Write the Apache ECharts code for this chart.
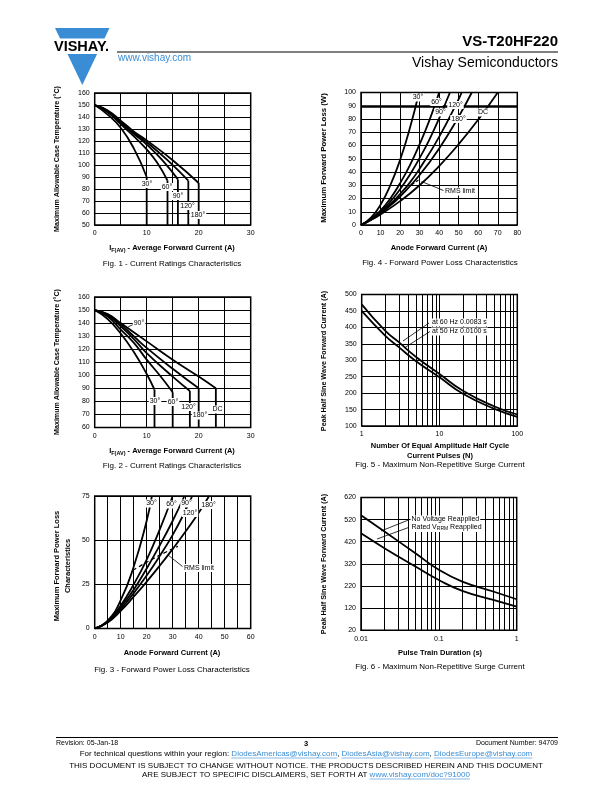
<!DOCTYPE html>
<html><head><meta charset="utf-8">
<script src="https://cdn.jsdelivr.net/npm/echarts@6/dist/echarts.min.js"></script>
<style>html,body{margin:0;padding:0;background:#fff}#c{width:612px;height:792px}</style>
</head><body><div id="c"></div>
<script>
// ---------- DATA ----------
// Fig. 1 - Current Ratings Characteristics (I, Tc)
const fig1_30 = [[0,150],[2.5,142],[5,131],[7.5,114],[10,90]];
const fig1_60 = [[0,150],[2.5,144],[5,134],[7.5,124],[10,113],[12,102],[14,87]];
const fig1_90 = [[0,150],[2.5,145],[5,135],[7.5,126],[10,117],[13,104],[16,88]];
const fig1_120 = [[0,150],[2.5,145],[5,136],[7.5,127],[10,119],[14,104],[18,87]];
const fig1_180 = [[0,150],[2.5,145.5],[5,137],[7.5,128],[10,120.5],[15,104],[20,85]];
// Fig. 2 - Current Ratings Characteristics
const fig2_30 = [[0,150],[2.5,143],[5,132],[7.5,118],[10,101],[11.5,89]];
const fig2_60 = [[0,150],[2.5,145],[5,135],[7.5,125],[10,112],[12.5,100],[15,87]];
const fig2_120 = [[0,150],[2.5,146],[5,137.5],[7.5,128],[10,117],[15,99],[18.3,88]];
const fig2_180 = [[0,150],[2.5,146.5],[5,139],[7.5,130],[10,121],[15,105],[20,90]];
const fig2_DC = [[0,150],[2.5,147],[5,140],[10,126],[15,112],[20,99],[23.3,90]];
// Fig. 3 - Forward Power Loss Characteristics (A, W)
const fig3_30 = [[0,0],[5,4.5],[10,16],[15,35],[20,61],[22,75]];
const fig3_60 = [[0,0],[5,4],[10,13],[15,25],[20,39],[25,56],[30,75]];
const fig3_90 = [[0,0],[5,3.8],[10,12],[15,22],[20,34],[25,47],[30,61],[34.5,75]];
const fig3_120 = [[0,0],[5,3.6],[10,11],[15,20],[20,30],[25,41],[30,53],[35,67],[37.5,75]];
const fig3_180 = [[0,0],[5,3.4],[10,10],[15,18],[20,26.5],[25,35.5],[30,45],[35,55],[40,65.5],[44,75]];
const fig3_rms = [[14.7,33],[20,37.5],[25,41.5],[32,46.5]];
// Fig. 4 - Forward Power Loss Characteristics
const fig4_30 = [[0,0],[5,5.3],[10,15.3],[15,30],[20,49],[25,73],[29.7,100]];
const fig4_60 = [[0,0],[5,4.4],[10,11],[15,20],[20,31.5],[25,45],[30,61],[35,79],[40,100]];
const fig4_90 = [[0,0],[5,4.2],[10,10],[15,17.6],[20,27],[25,38],[30,50.5],[35,64.5],[40,80.5],[45.5,100]];
const fig4_120 = [[0,0],[5,4],[10,9.3],[15,15.7],[20,23.4],[25,32],[30,42.5],[40,66.5],[50,95],[51.5,100]];
const fig4_180 = [[0,0],[5,3.9],[10,8.8],[15,14.6],[20,21.4],[30,37.7],[40,57.8],[50,81.8],[56.7,100]];
const fig4_DC = [[0,0],[5,3.7],[10,8],[20,18],[30,30],[40,44.5],[50,61],[60,79.5],[70,100]];
const fig4_limit = 90;
const fig4_rms = [[26,30.5],[30,34.5]];
// Fig. 5 - Maximum Non-Repetitive Surge Current (N, A)
const fig5_60Hz = [[1,470],[2,390],[3,355],[5,310],[10,258],[20,207],[50,160],[100,135]];
const fig5_50Hz = [[1,450],[2,375],[3,340],[5,297],[10,248],[20,198],[50,153],[100,128]];
const fig5MinorTicks = [2,3,4,5,6,7,8,9,20,30,40,50,60,70,80,90];
// Fig. 6 - Maximum Non-Repetitive Surge Current (s, A)
const fig6_noV = [[0.01,540],[0.02,466],[0.05,368],[0.1,293],[0.2,240],[0.5,195],[1,160]];
const fig6_rated = [[0.01,458],[0.02,391],[0.05,308],[0.1,247],[0.2,198],[0.5,157],[1,127]];
const fig6MinorTicks = [0.02,0.03,0.04,0.05,0.06,0.07,0.08,0.09,0.2,0.3,0.4,0.5,0.6,0.7,0.8,0.9];

// ---------- CHART ----------
const FF = '"Liberation Sans", Arial, Helvetica, sans-serif';
const BLUE = '#3a8dd4';
const chart = echarts.init(document.getElementById('c'), null, {renderer:'canvas'});

const gridsPos = [
  {left:94.7, top:93, width:156, height:132},
  {left:94.7, top:297, width:156, height:130.5},
  {left:94.7, top:496, width:156, height:132.5},
  {left:361, top:92.5, width:156.3, height:132.5},
  {left:361.7, top:294.5, width:155.6, height:131.5},
  {left:361, top:497.5, width:155.7, height:132.7}
];
const grid = gridsPos.map(g => Object.assign({show:true, borderColor:'#000', borderWidth:1.5, backgroundColor:'transparent', containLabel:false}, g));

function ax(gi, o) {
  return Object.assign({
    type:'value', gridIndex:gi,
    axisLine:{show:false}, axisTick:{show:false},
    splitLine:{show:true, lineStyle:{color:'#000', width:1}},
    axisLabel:{color:'#000', fontSize:7, fontFamily:FF, margin:5}
  }, o);
}
const every10 = v => (Math.abs(v % 10) < 1e-9 ? String(v) : '');
const logFmt = v => String(Number(v.toPrecision(3)));
const xAxis = [
  ax(0,{min:0,max:30,interval:5,axisLabel:{color:'#000',fontSize:7,fontFamily:FF,margin:5,formatter:every10}}),
  ax(1,{min:0,max:30,interval:5,axisLabel:{color:'#000',fontSize:7,fontFamily:FF,margin:5,formatter:every10}}),
  ax(2,{min:0,max:60,interval:5,axisLabel:{color:'#000',fontSize:7,fontFamily:FF,margin:5,formatter:every10}}),
  ax(3,{min:0,max:80,interval:10}),
  ax(4,{type:'log',logBase:10,min:1,max:100,axisLabel:{color:'#000',fontSize:7,fontFamily:FF,margin:5,formatter:logFmt}}),
  ax(5,{type:'log',logBase:10,min:0.01,max:1,axisLabel:{color:'#000',fontSize:7,fontFamily:FF,margin:5,formatter:logFmt}})
];
const yAxis = [
  ax(0,{min:50,max:160,interval:10}),
  ax(1,{min:60,max:160,interval:10}),
  ax(2,{min:0,max:75,interval:25}),
  ax(3,{min:0,max:100,interval:10}),
  ax(4,{min:100,max:500,interval:50}),
  ax(5,{min:20,max:620,interval:100})
];

function curve(data, gi, extra) {
  return Object.assign({
    type:'line', data, xAxisIndex:gi, yAxisIndex:gi, symbol:'none', showSymbol:false,
    smooth:0.5, clip:true, silent:true, animation:false, z:3, sampling:null,
    lineStyle:{color:'#000', width:1.8}
  }, extra || {});
}
function drops(ends, gi, ymin) {
  return ends.map(p => curve([[p[0],p[1]],[p[0],ymin]], gi, {smooth:false, lineStyle:{color:'#000', width:1.8}}));
}
function minorLines(ticks) {
  return {silent:true, symbol:['none','none'], label:{show:false}, animation:false,
    lineStyle:{color:'#000', width:1, type:'solid'}, emphasis:{disabled:true},
    data: ticks.map(v => ({xAxis:v}))};
}
const lastPt = a => a[a.length-1];

const series = [
  curve(fig1_30,0), curve(fig1_60,0), curve(fig1_90,0), curve(fig1_120,0), curve(fig1_180,0),
  ...drops([lastPt(fig1_30), lastPt(fig1_60), lastPt(fig1_90), lastPt(fig1_120), lastPt(fig1_180)], 0, 50),
  curve(fig2_30,1), curve(fig2_60,1), curve(fig2_120,1), curve(fig2_180,1), curve(fig2_DC,1),
  ...drops([lastPt(fig2_30), lastPt(fig2_60), lastPt(fig2_120), lastPt(fig2_180), lastPt(fig2_DC)], 1, 60),
  curve(fig3_30,2), curve(fig3_60,2), curve(fig3_90,2), curve(fig3_120,2), curve(fig3_180,2),
  curve(fig3_rms,2,{smooth:0.3, lineStyle:{color:'#000', width:1.3, type:[4,3]}}),
  curve(fig4_30,3), curve(fig4_60,3), curve(fig4_90,3), curve(fig4_120,3), curve(fig4_180,3),
  curve(fig4_DC,3,{markLine:{silent:true, symbol:['none','none'], label:{show:false}, animation:false,
    lineStyle:{color:'#000', width:2.6, type:'solid'}, data:[{yAxis:fig4_limit}]}}),
  curve(fig4_rms,3,{smooth:false, lineStyle:{color:'#000', width:1.2, type:[3,2]}}),
  curve(fig5_60Hz,4,{markLine:minorLines(fig5MinorTicks)}), curve(fig5_50Hz,4),
  curve(fig6_noV,5,{markLine:minorLines(fig6MinorTicks)}), curve(fig6_rated,5)
];

// ---------- TEXT / DECORATION ----------
const G = [];
function txt(x, y, text, size, o) {
  o = o || {};
  G.push({type:'text', x, y, rotation:o.rot||0, z:50, silent:true,
    style:Object.assign({text, fill:o.fill||'#000', align:o.align||'center', verticalAlign:'middle',
      font:(o.bold?'bold ':'') + size + 'px ' + FF}, o.style||{})});
}
function lbl(x, y, text, align) {
  G.push({type:'text', x, y, z:60, silent:true,
    style:{text, fill:'#000', align:align||'center', verticalAlign:'middle', font:'7px '+FF,
      backgroundColor:'#fff', padding:[1,1,0,1]}});
}
function seg(x1,y1,x2,y2,w,col){ G.push({type:'line', z:55, silent:true, shape:{x1,y1,x2,y2}, style:{stroke:col||'#000', lineWidth:w||0.8}}); }

// Header
G.push({type:'polygon', z:10, silent:true, shape:{points:[[55,28],[109.5,28],[82.3,85]]}, style:{fill:BLUE}});
G.push({type:'rect', z:11, silent:true, shape:{x:48,y:38.5,width:66,height:15.5}, style:{fill:'#fff'}});
txt(81.5, 46.8, 'VISHAY.', 14.5, {bold:true});
txt(118, 58.5, 'www.vishay.com', 10, {align:'left', fill:BLUE});
G.push({type:'line', z:10, silent:true, shape:{x1:117,y1:52,x2:558,y2:52}, style:{stroke:'#000', lineWidth:1}});
txt(558, 42, 'VS-T20HF220', 15, {bold:true, align:'right'});
txt(558, 63, 'Vishay Semiconductors', 14, {align:'right'});

// Axis titles & captions
const YT = 'Maximum Allowable Case Temperature (°C)';
const R = Math.PI/2;
txt(57, 159, YT, 7.1, {bold:true, rot:R});
txt(57, 362, YT, 7.1, {bold:true, rot:R});
txt(57, 566, 'Maximum Forward Power Loss', 7.5, {bold:true, rot:R});
txt(67.5, 566, 'Characteristics', 7.5, {bold:true, rot:R});
txt(324, 158, 'Maximum Forward Power Loss (W)', 7.8, {bold:true, rot:R});
txt(324, 361, 'Peak Half Sine Wave Forward Current (A)', 7.2, {bold:true, rot:R});
txt(324, 564, 'Peak Half Sine Wave Forward Current (A)', 7.2, {bold:true, rot:R});

function xTitleIF(x, y) {
  G.push({type:'text', x, y, z:50, silent:true, style:{
    text:'{b|I}{s|F(AV)}{b| - Average Forward Current (A)}', align:'center', verticalAlign:'middle', fill:'#000',
    rich:{b:{font:'bold 7.5px '+FF, fill:'#000', lineHeight:11}, s:{font:'bold 5.5px '+FF, fill:'#000', lineHeight:11, padding:[4,0,0,0]}}}});
}
xTitleIF(172, 248);
xTitleIF(172, 451);
txt(172, 653, 'Anode Forward Current (A)', 7.5, {bold:true});
txt(439, 248, 'Anode Forward Current (A)', 7.5, {bold:true});
txt(440, 446, 'Number Of Equal Amplitude Half Cycle', 7.5, {bold:true});
txt(440, 455.5, 'Current Pulses (N)', 7.5, {bold:true});
txt(440, 653, 'Pulse Train Duration (s)', 7.5, {bold:true});

txt(172, 264, 'Fig. 1 - Current Ratings Characteristics', 8);
txt(172, 466, 'Fig. 2 - Current Ratings Characteristics', 8);
txt(172, 670, 'Fig. 3 - Forward Power Loss Characteristics', 8);
txt(440, 263, 'Fig. 4 - Forward Power Loss Characteristics', 8);
txt(440, 465, 'Fig. 5 - Maximum Non-Repetitive Surge Current', 8);
txt(440, 667, 'Fig. 6 - Maximum Non-Repetitive Surge Current', 8);

// Curve labels
lbl(147,184,'30°'); lbl(167,187,'60°'); lbl(178,196,'90°'); lbl(187.5,206,'120°'); lbl(198,215,'180°');
lbl(139,323,'90°'); seg(128,327,134,324);
lbl(155,401,'30°'); lbl(173,402,'60°'); lbl(188.5,407,'120°'); lbl(200,415.5,'180°'); lbl(217.5,409.5,'DC');
lbl(151.5,503.5,'30°'); lbl(171.5,504.5,'60°'); lbl(186.5,503.5,'90°'); lbl(190,513,'120°'); lbl(208.5,505,'180°');
seg(168,555,182.5,566.5); lbl(183,568,'RMS limit','left');
lbl(418,97.5,'30°'); lbl(436.5,102,'60°'); lbl(455.5,105,'120°'); lbl(440.5,112.5,'90°'); lbl(458.5,119,'180°'); lbl(483,112.5,'DC');
seg(421.5,181.5,443.5,190.5); lbl(444,191.5,'RMS limit','left');
seg(429,323,403,341); seg(430,331.5,405,347.5);
lbl(431,322.5,'at 60 Hz 0.0083 s','left'); lbl(431,331.5,'at 50 Hz 0.0100 s','left');
seg(408.5,520,381,531); seg(408.5,527.5,377,539);
lbl(410.5,519.5,'No Voltage Reapplied','left');
G.push({type:'text', x:410.5, y:527.5, z:60, silent:true, style:{
  text:'{n|Rated V}{s|RRM}{n| Reapplied}', align:'left', verticalAlign:'middle', backgroundColor:'#fff', padding:[0,1,0,1],
  rich:{n:{font:'7px '+FF, fill:'#000', lineHeight:9}, s:{font:'5px '+FF, fill:'#000', lineHeight:9, padding:[3,0,0,0]}}}});

// Footer
const FS = 8;
G.push({type:'line', z:10, silent:true, shape:{x1:56,y1:737.5,x2:558,y2:737.5}, style:{stroke:'#000', lineWidth:1}});
txt(56, 743.5, 'Revision: 05-Jan-18', 7, {align:'left'});
txt(306, 744, '3', 7.5, {bold:true});
txt(558, 743.5, 'Document Number: 94709', 7, {align:'right'});
G.push({type:'text', x:306, y:753.5, z:50, silent:true, style:{
  text:'For technical questions within your region: {l|DiodesAmericas@vishay.com}, {l|DiodesAsia@vishay.com}, {l|DiodesEurope@vishay.com}',
  align:'center', verticalAlign:'middle', font:FS+'px '+FF, fill:'#000',
  rich:{l:{font:FS+'px '+FF, fill:BLUE}}}});
txt(306, 765.5, 'THIS DOCUMENT IS SUBJECT TO CHANGE WITHOUT NOTICE. THE PRODUCTS DESCRIBED HEREIN AND THIS DOCUMENT', FS);
G.push({type:'text', x:306, y:774.5, z:50, silent:true, style:{
  text:'ARE SUBJECT TO SPECIFIC DISCLAIMERS, SET FORTH AT {l|www.vishay.com/doc?91000}',
  align:'center', verticalAlign:'middle', font:FS+'px '+FF, fill:'#000',
  rich:{l:{font:FS+'px '+FF, fill:BLUE}}}});

// underline the links (measured with the same font)
(function(){
  const ctx = document.createElement('canvas').getContext('2d');
  ctx.font = FS + 'px ' + FF;
  const m = s => ctx.measureText(s).width;
  function underline(cx, y, parts) {
    const total = m(parts.map(p=>p[0]).join(''));
    let x = cx - total/2;
    parts.forEach(p => { const w = m(p[0]); if (p[1]) seg(x, y, x+w, y, 0.6, BLUE); x += w; });
  }
  underline(306, 758, [['For technical questions within your region: ',0],['DiodesAmericas@vishay.com',1],[', ',0],['DiodesAsia@vishay.com',1],[', ',0],['DiodesEurope@vishay.com',1]]);
  underline(306, 779, [['ARE SUBJECT TO SPECIFIC DISCLAIMERS, SET FORTH AT ',0],['www.vishay.com/doc?91000',1]]);
})();

chart.setOption({
  animation:false,
  backgroundColor:'#fff',
  grid, xAxis, yAxis, series,
  graphic:{elements:G}
});
</script></body></html>
